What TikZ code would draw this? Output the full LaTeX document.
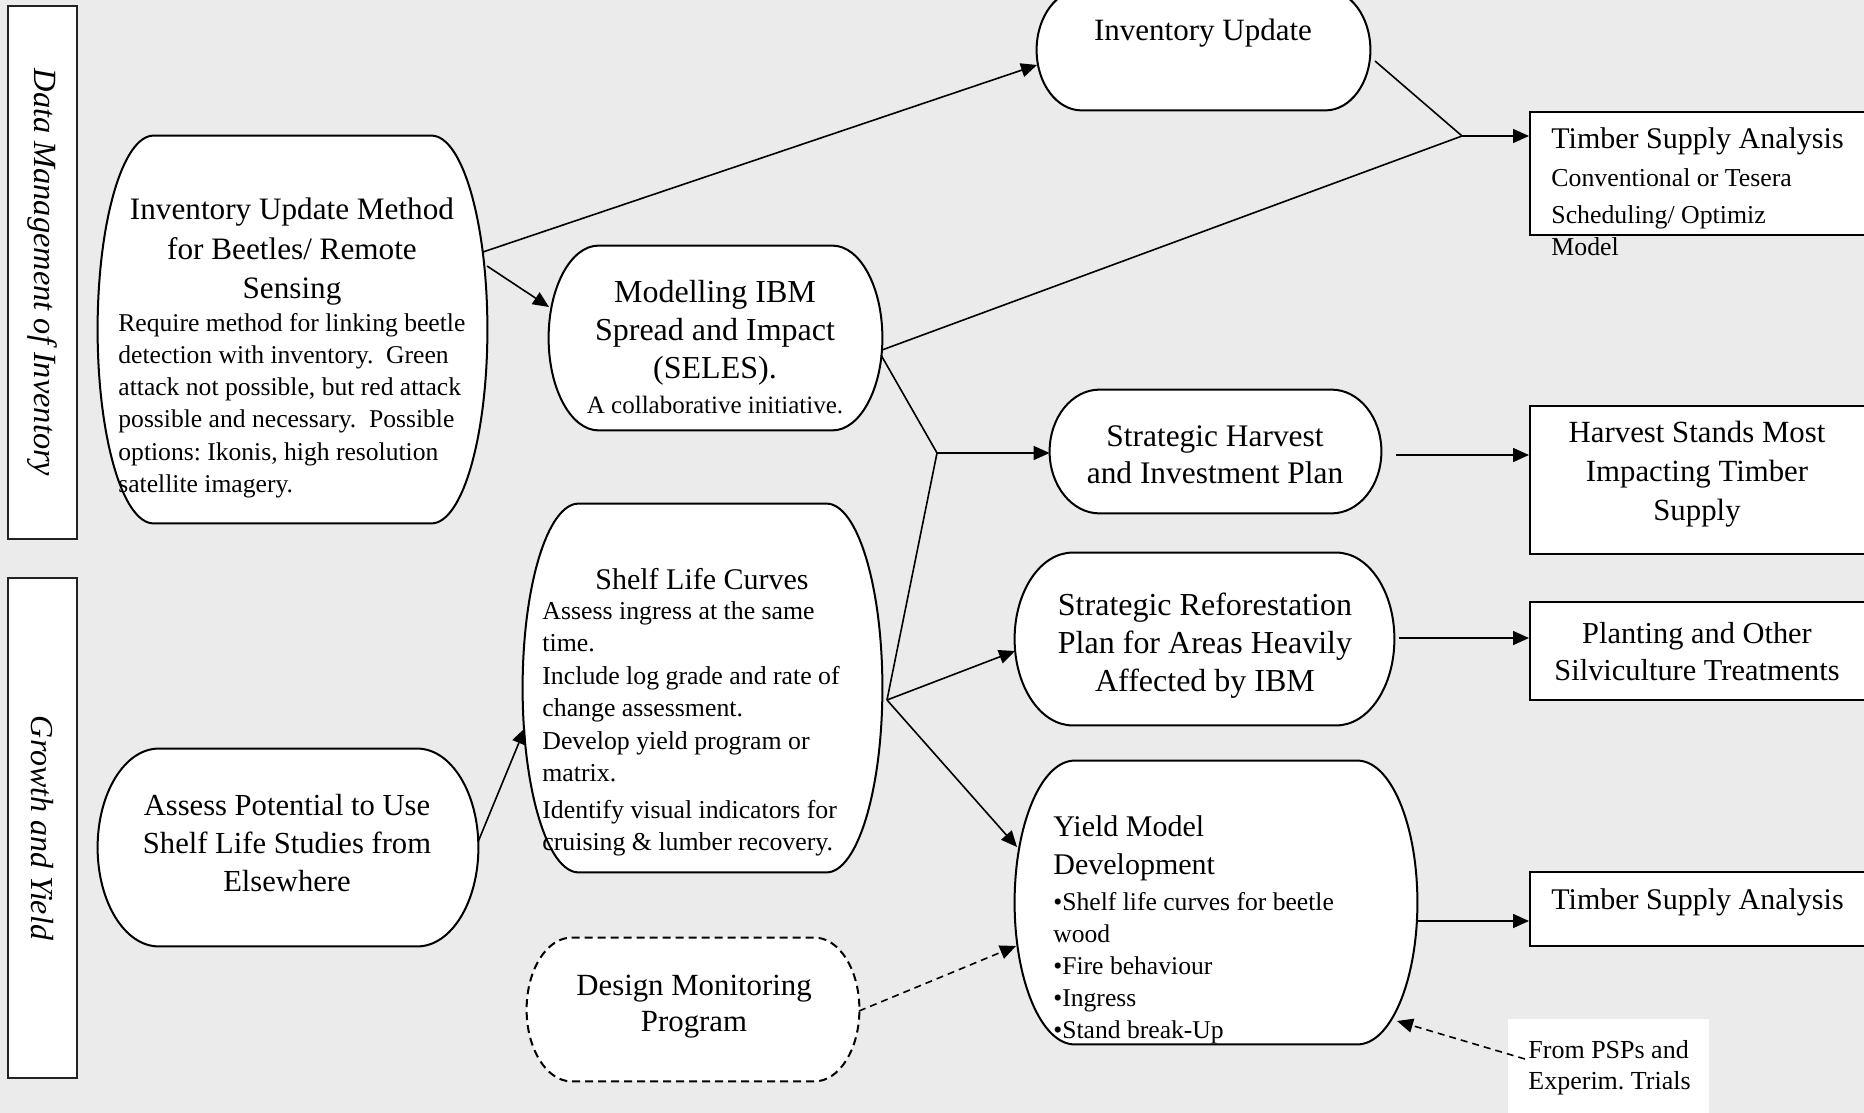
\documentclass[tikz,border=0pt]{standalone}
\usepackage{fontspec}
\setmainfont{Liberation Serif}
\usetikzlibrary{calc,arrows.meta}
\definecolor{bgc}{HTML}{EBEBEB}
\definecolor{barline}{HTML}{222222}
\frenchspacing
\newcommand\fs[2]{\fontsize{#1}{#2}\selectfont}
\newcommand\capsule[3][]{%
  \draw[shapeline,#1] let \p1=(#2.north west), \p2=(#2.south east), \n1={(\y1-\y2)/2} in
    (\x1+#3,\y1) -- (\x2-#3,\y1) arc[start angle=90,end angle=-90,x radius=#3,y radius=\n1]
    -- (\x1+#3,\y2) arc[start angle=270,end angle=90,x radius=#3,y radius=\n1] -- cycle;}
\tikzset{
  shapeline/.style={draw=black, line width=1pt, fill=white},
  holder/.style={draw=none, inner sep=0pt},
  rbox/.style={draw=black, line width=1pt, fill=white, inner sep=0pt},
  barbox/.style={draw=barline, line width=1.2pt, fill=white, inner sep=0pt},
  conn/.style={line width=0.8pt, -{Triangle[length=8pt,width=7pt]}},
  plainline/.style={line width=0.8pt},
  dconn/.style={conn, dash pattern=on 3.5pt off 2.5pt},
  txt/.style={inner sep=0pt, align=center},
  ltxt/.style={inner sep=0pt, align=left, anchor=west},
}
\begin{document}
\frenchspacing
\begin{tikzpicture}[x=0.5pt,y=-0.5pt]
\useasboundingbox (0,0) rectangle (1864,1113);
\clip (0,0) rectangle (1864,1113);
\fill[bgc] (0,0) rectangle (1864,1113);

% side bars
\node[barbox, minimum width=34.5pt, minimum height=266.5pt] (dmbar) at (42.5,272.5) {};
\node[barbox, minimum width=34.5pt, minimum height=250pt] (gybar) at (42.5,828) {};
\node[txt, rotate=-90, font=\itshape\fs{16.2}{19}] (dmbar-t) at (dmbar.center) {Data Management of Inventory};
\node[txt, rotate=-90, font=\itshape\fs{16}{19}] (gybar-t) at (gybar.center) {Growth and Yield};

% right rectangular boxes
\node[rbox, minimum width=175pt, minimum height=61.5pt] (tsa1) at (1705,173.5) {};
\node[rbox, minimum width=175pt, minimum height=74pt] (hs) at (1705,480) {};
\node[rbox, minimum width=175pt, minimum height=49pt] (pl) at (1705,651) {};
\node[rbox, minimum width=175pt, minimum height=37pt] (tsa2) at (1705,909) {};
\node[fill=white, draw=none, inner sep=0pt, minimum width=100.5pt, minimum height=53pt] (psp) at (1608.5,1072) {};

% rounded shapes
\node[holder, minimum width=194.5pt, minimum height=193.5pt] (ium) at (292.5,329.5) {};
\node[holder, minimum width=166.5pt, minimum height=92pt] (mibm) at (715.5,338) {};
\node[holder, minimum width=179.5pt, minimum height=184pt] (slc) at (702.5,688) {};
\node[holder, minimum width=190pt, minimum height=98.5pt] (ap) at (288,847.5) {};
\node[holder, minimum width=166pt, minimum height=71.5pt] (dmp) at (693,1009.5) {};
\node[holder, minimum width=166.5pt, minimum height=60pt] (iu) at (1203.5,50) {};
\node[holder, minimum width=165.5pt, minimum height=61.5pt] (sh) at (1215.5,451.5) {};
\node[holder, minimum width=189.5pt, minimum height=86pt] (sr) at (1204.5,639) {};
\node[holder, minimum width=201pt, minimum height=141.5pt] (ym) at (1216,902.5) {};
\capsule{ium}{28pt}
\capsule{mibm}{25pt}
\capsule{slc}{28pt}
\capsule{ap}{30.5pt}
\capsule[dash pattern=on 4pt off 2.5pt]{dmp}{22.5pt}
\capsule{iu}{22.5pt}
\capsule{sh}{25pt}
\capsule{sr}{29pt}
\capsule{ym}{30pt}

% texts
\node[txt, font=\fs{15.6}{19.75}] (ium-t) at (292,252) {Inventory Update Method\\for Beetles/ Remote\\Sensing};
\node[ltxt, font=\fs{12.8}{16.1}] (ium-b) at (118,405.5) {Require method for linking beetle\\detection with inventory.\ \ Green\\attack not possible, but red attack\\possible and necessary.\ \ Possible\\options: Ikonis, high resolution\\satellite imagery.};
\node[txt, font=\fs{16}{19}] (mibm-t) at (715,333) {Modelling IBM\\Spread and Impact\\(SELES).};
\node[txt, font=\fs{12.5}{15}] (mibm-s) at (715,405) {A collaborative initiative.};
\node[txt, font=\fs{15}{18}] (slc-t) at (702,579) {Shelf Life Curves};
\node[ltxt, font=\fs{12.9}{16.2}] (slc-b) at (542,729) {Assess ingress at the same\\time.\\Include log grade and rate of\\change assessment.\\Develop yield program or\\matrix.\\[2.3pt]Identify visual indicators for\\cruising \& lumber recovery.};
\node[txt, font=\fs{15.3}{19}] (ap-t) at (287,843) {Assess Potential to Use\\Shelf Life Studies from\\Elsewhere};
\node[txt, font=\fs{15.4}{18}] (dmp-t) at (694,1007) {Design Monitoring\\Program};
\node[txt, font=\fs{15.5}{18}] (iu-t) at (1203,33) {Inventory Update};
\node[ltxt, font=\fs{15}{18}] (tsa1-t) at (1551,141) {Timber Supply Analysis};
\node[ltxt, font=\fs{12.9}{18.5}] (tsa1-b) at (1551,212) {Conventional or Tesera\\Scheduling/ Optimiz\\[-2.5pt]Model};
\node[txt, font=\fs{15.4}{19.5}] (hs-t) at (1697,474) {Harvest Stands Most\\Impacting Timber\\Supply};
\node[txt, font=\fs{15.7}{18.5}] (sh-t) at (1215,454.5) {Strategic Harvest\\and Investment Plan};
\node[txt, font=\fs{16}{19}] (sr-t) at (1205,646) {Strategic Reforestation\\Plan for Areas Heavily\\Affected by IBM};
\node[txt, font=\fs{15.2}{18.5}] (pl-t) at (1697,652) {Planting and Other\\Silviculture Treatments};
\node[ltxt, font=\fs{15}{18}] (tsa2-t) at (1551,902) {Timber Supply Analysis};
\node[ltxt, font=\fs{15}{19}] (ym-t) at (1053,848) {Yield Model\\Development};
\node[ltxt, font=\fs{12.8}{16}] (ym-b) at (1053,968) {•Shelf life curves for beetle\\wood\\•Fire behaviour\\•Ingress\\•Stand break-Up};
\node[ltxt, font=\fs{13}{15.5}] (psp-t) at (1528,1067.5) {From PSPs and\\Experim. Trials};

% junction coordinates
\coordinate (j1) at (1462,136);
\coordinate (j2) at (937,453);
\coordinate (so) at ($(slc.center)+(184.5,12)$);

% connectors
\draw[conn] ($(ium.center)+(190.5,-77.5)$) -- ($(iu.center)+(-166.5,15)$);
\draw[conn] ($(ium.center)+(194.5,-63.5)$) -- ($(mibm.center)+(-166.5,-31)$);
\draw[plainline] ($(iu.center)+(171.5,11)$) -- (j1);
\draw[plainline] ($(mibm.center)+(166.5,12)$) -- (j1);
\draw[conn] (j1) -- ($(tsa1.west)+(0,-37.5)$);
\draw[plainline] ($(mibm.center)+(165.5,17)$) -- (j2);
\draw[conn] (j2) -- ($(sh.west)+(0,1.5)$);
\draw[plainline] (so) -- (j2);
\draw[conn] (so) -- ($(sr.center)+(-189.5,12)$);
\draw[conn] (so) -- ($(ym.center)+(-199,-55.5)$);
\draw[conn] ($(ap.center)+(190,-5.5)$) -- ($(slc.center)+(-177.5,40)$);
\draw[dconn] ($(dmp.center)+(166,1.5)$) -- ($(ym.center)+(-200,43.5)$);
\draw[dconn] ($(psp.center)+(-83.5,-13)$) -- ($(ym.center)+(181,118.5)$);
\draw[conn] ($(sh.center)+(180.5,3.5)$) -- ($(hs.west)+(0,-25)$);
\draw[conn] ($(sr.center)+(194.5,-1)$) -- ($(pl.west)+(0,-13)$);
\draw[conn] ($(ym.center)+(201,18.5)$) -- ($(tsa2.west)+(0,12)$);
\end{tikzpicture}
\end{document}
